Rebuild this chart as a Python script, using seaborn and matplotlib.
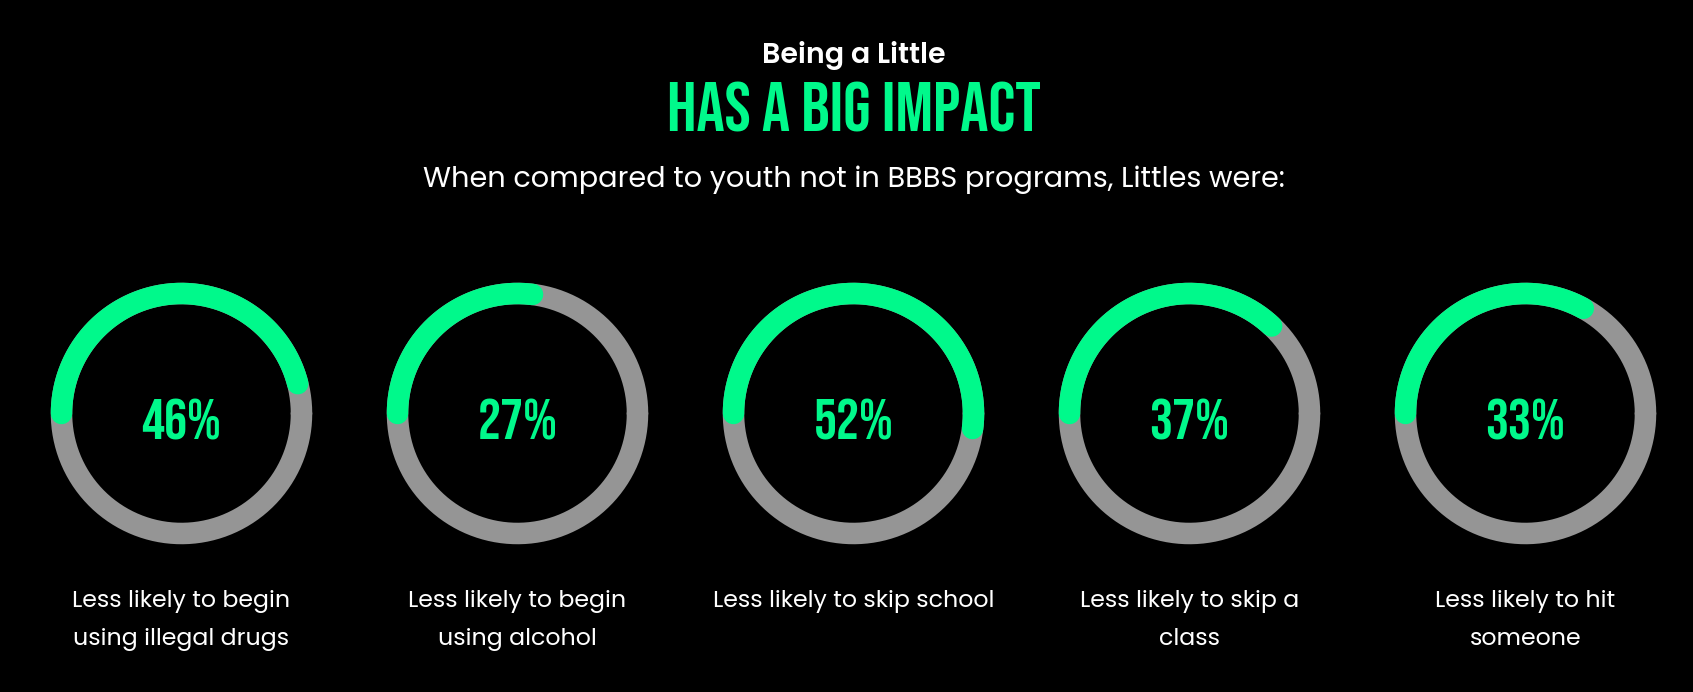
import numpy as np
import pandas as pd
import seaborn as sns
import matplotlib
matplotlib.use("Agg")
import matplotlib.pyplot as plt

# ---- data ----
values = [46, 27, 52, 37, 33]
value_labels = ["46%", "27%", "52%", "37%", "33%"]
captions = [
    "Less likely to begin\nusing illegal drugs",
    "Less likely to begin\nusing alcohol",
    "Less likely to skip school",
    "Less likely to skip a\nclass",
    "Less likely to hit\nsomeone",
]
kicker = "Being a Little"
headline = "HAS A BIG IMPACT"
subtitle = "When compared to youth not in BBBS programs, Littles were:"

GREEN = "#00F98B"
GREY = "#959595"
BG = "#000000"

sns.set_theme(style="dark", rc={"axes.facecolor": BG, "figure.facecolor": BG})
BODY = ["Poppins", "DejaVu Sans"]
DISPLAY = ["Bebas Neue", "Oswald", "Fjalla One", "DejaVu Sans"]
plt.rcParams["font.family"] = BODY

W, H = 1693, 692
fig = plt.figure(figsize=(W / 100, H / 100), dpi=100)
ax = fig.add_axes([0, 0, 1, 1])
ax.set_xlim(0, W)
ax.set_ylim(H, 0)
ax.axis("off")
renderer = fig.canvas.get_renderer()


def fit_size(text, target_px, family, weight="normal", base=20.0):
    t = ax.text(0, 0, text, fontsize=base, family=family, fontweight=weight)
    w = t.get_window_extent(renderer).width
    t.remove()
    return base * target_px / w


cx0, step, cy = 181.5, 336.0, 413.5
r = 120.0
lw = 21.5 * 72 / 100

pct_size = fit_size(value_labels[0], 80, DISPLAY)
cap_size = fit_size("Less likely to begin", 218, BODY)

for i, v in enumerate(values):
    cx = cx0 + step * i
    t = np.linspace(0, 2 * np.pi, 400)
    ring = pd.DataFrame({"x": cx + r * np.cos(t), "y": cy - r * np.sin(t)})
    sns.lineplot(data=ring, x="x", y="y", sort=False, estimator=None,
                 color=GREY, linewidth=lw, ax=ax, legend=False)
    ta = np.linspace(np.pi, np.pi - 2 * np.pi * v / 100, 300)
    arc = pd.DataFrame({"x": cx + r * np.cos(ta), "y": cy - r * np.sin(ta)})
    sns.lineplot(data=arc, x="x", y="y", sort=False, estimator=None,
                 color=GREEN, linewidth=lw, ax=ax, legend=False,
                 solid_capstyle="round")
    ax.text(cx, 440, value_labels[i], color=GREEN, fontsize=pct_size,
            family=DISPLAY, ha="center", va="baseline")
    for j, line in enumerate(captions[i].split("\n")):
        ax.text(cx, 607.3 + 37.7 * j, line, color="white", fontsize=cap_size,
                family=BODY, ha="center", va="baseline")

ax.set_xlabel("")
ax.set_ylabel("")

ax.text(W / 2 + 7, 63.3, kicker, color="white",
        fontsize=fit_size(kicker, 183, BODY, "semibold"), fontweight="semibold",
        family=BODY, ha="center", va="baseline")
ax.text(W / 2 + 7, 131, headline, color=GREEN,
        fontsize=fit_size(headline, 375, DISPLAY), family=DISPLAY,
        ha="center", va="baseline")
ax.text(W / 2 + 7, 186.7, subtitle, color="white",
        fontsize=fit_size(subtitle, 862, BODY), family=BODY,
        ha="center", va="baseline")

fig.savefig("out.png", dpi=100, facecolor=BG)
